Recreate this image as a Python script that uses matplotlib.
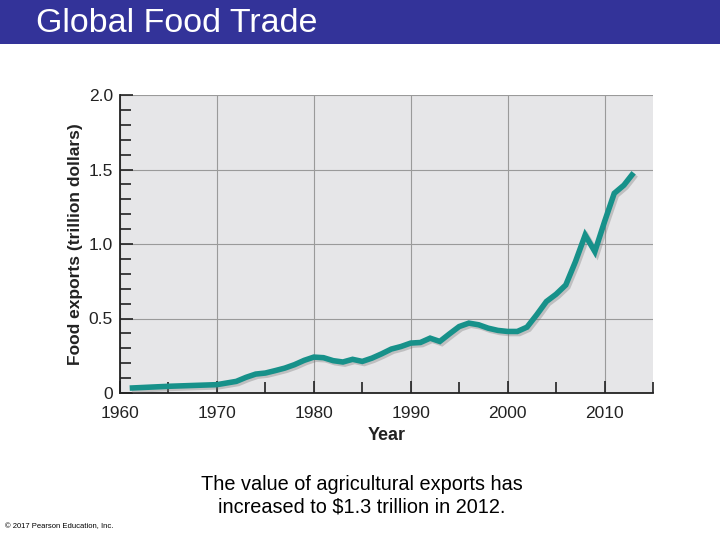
import matplotlib
matplotlib.use("Agg")
from matplotlib import pyplot as plt
from matplotlib import patheffects as pe
from matplotlib.patches import Rectangle
from matplotlib.ticker import MultipleLocator, FuncFormatter

# 数据：年份与食品出口额（万亿美元）
years = [1961, 1965, 1970, 1972, 1973, 1974, 1975, 1976, 1977, 1978, 1979,
         1980, 1981, 1982, 1983, 1984, 1985, 1986, 1987, 1988, 1989,
         1990, 1991, 1992, 1993, 1994, 1995, 1996, 1997, 1998, 1999,
         2000, 2001, 2002, 2003, 2004, 2005, 2006, 2007, 2008, 2009,
         2010, 2011, 2012, 2013]
exports = [0.033, 0.045, 0.056, 0.078, 0.105, 0.127, 0.134, 0.150, 0.167, 0.190, 0.219,
           0.241, 0.237, 0.217, 0.208, 0.226, 0.212, 0.234, 0.263, 0.295, 0.312,
           0.335, 0.339, 0.368, 0.346, 0.397, 0.446, 0.469, 0.458, 0.435, 0.420,
           0.413, 0.413, 0.442, 0.525, 0.614, 0.663, 0.725, 0.882, 1.060, 0.949,
           1.150, 1.340, 1.395, 1.478]

title = "Global Food Trade"
caption = "The value of agricultural exports has\nincreased to $1.3 trillion in 2012."
credit = "\u00a9 2017 Pearson Education, Inc."

sans = ["Liberation Sans", "DejaVu Sans"]

fig = plt.figure(figsize=(7.2, 5.4), dpi=100)

# 顶部标题栏
fig.patches.append(Rectangle((0, 1 - 44 / 540), 1, 44 / 540, transform=fig.transFigure,
                             facecolor="#333399", edgecolor="none", zorder=0))
fig.text(36 / 720, 1 - 23 / 540, title, color="white", fontsize=24.5,
         family=sans, va="center", ha="left")

ax = fig.add_axes([120 / 720, 1 - 393 / 540, 533 / 720, 298 / 540])
ax.set_facecolor("#e6e6e8")
ax.plot(years, exports, color="#17918a", lw=4, solid_capstyle="butt",
        solid_joinstyle="miter",
        path_effects=[pe.SimpleLineShadow(offset=(1.5, -1.5), shadow_color="#777777", alpha=0.35),
                      pe.Normal()], zorder=3)

ax.set_xlim(1960, 2015)
ax.set_ylim(0, 2.0)
ax.xaxis.set_major_locator(MultipleLocator(10))
ax.xaxis.set_minor_locator(MultipleLocator(5))
ax.yaxis.set_major_locator(MultipleLocator(0.5))
ax.yaxis.set_minor_locator(MultipleLocator(0.1))
ax.yaxis.set_major_formatter(FuncFormatter(lambda v, p: "0" if v == 0 else "%.1f" % v))
ax.grid(which="major", color="#9a9a9a", lw=0.8, zorder=1)
ax.set_axisbelow(True)

for s in ("top", "right"):
    ax.spines[s].set_visible(False)
for s in ("left", "bottom"):
    ax.spines[s].set_color("#222222")
    ax.spines[s].set_linewidth(1.3)

ax.tick_params(which="both", direction="in", color="#222222", width=1.2)
ax.tick_params(which="major", length=9)
ax.tick_params(which="minor", length=8)
ax.tick_params(axis="x", which="major", pad=9)
ax.tick_params(axis="y", which="major", pad=5)
for lab in ax.get_xticklabels() + ax.get_yticklabels():
    lab.set_family(sans)
    lab.set_fontsize(12.5)
    lab.set_color("#222222")

ax.set_xlabel("Year", family=sans, fontsize=13, fontweight="bold", color="#222222", labelpad=5)
ax.set_ylabel("Food exports (trillion dollars)", family=sans, fontsize=12.5,
              fontweight="bold", color="#222222", labelpad=4)

fig.text(362 / 720, 1 - 496 / 540, caption, fontsize=14.3, family=sans,
         ha="center", va="center", linespacing=1.2)
fig.text(5 / 720, 1 - 527 / 540, credit, fontsize=5.5, family=sans,
         ha="left", va="center")

fig.savefig("out.png", dpi=100)
